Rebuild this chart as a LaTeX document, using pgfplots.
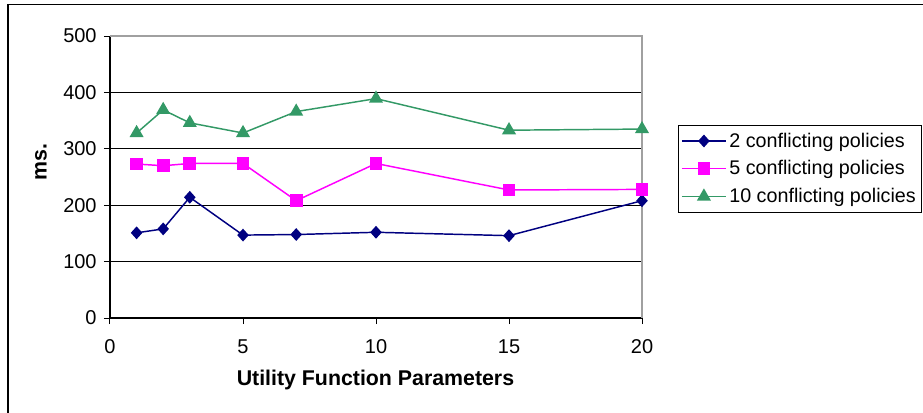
\documentclass[border=0pt]{standalone}
\usepackage{pgfplots}
\pgfplotsset{compat=1.18}
\usepackage{fontspec}
\setmainfont{Liberation Sans}
\definecolor{navyc}{HTML}{000080}
\definecolor{magc}{HTML}{FF00FF}
\definecolor{greenc}{HTML}{339966}
\definecolor{borderc}{HTML}{A0A0A0}
\begin{document}
\begin{tikzpicture}
\begin{axis}[
  scale only axis,
  width=399pt, height=211.5pt,
  xmin=0, xmax=20, ymin=0, ymax=500,
  xtick={0,5,10,15,20}, ytick={0,100,200,300,400,500},
  axis x line*=bottom, axis y line*=left,
  axis line style={black, line width=0.9pt, -},
  tick align=outside, major tick length=4.5pt,
  tick style={black, line width=0.75pt},
  ymajorgrids, grid style={black, line width=0.75pt},
  /pgf/number format/assume math mode=true,
  ticklabel style={font=\fontsize{15}{18}\selectfont},
  yticklabel style={xshift=-2pt},
  xticklabel style={yshift=-8pt},
  xlabel={\textbf{Utility Function Parameters}},
  ylabel={\textbf{ms.}},
  label style={font=\fontsize{16}{19}\selectfont},
  xlabel style={at={(rel axis cs:0.499,-0.2376)}, anchor=base},
  ylabel style={at={(rel axis cs:-0.1297,0.553)}, anchor=center, rotate=0},
  legend style={at={(rel axis cs:1.0677,0.6844)}, anchor=north west,
    draw=black, line width=0.75pt, font=\fontsize{14.8}{17}\selectfont,
    inner xsep=2pt, inner ysep=3.5pt, row sep=4.6pt,
    /tikz/every even column/.append style={column sep=0pt}},
  legend cell align=left,
  legend image code/.code={%
    \draw[mark repeat=2,mark phase=2] plot coordinates {(0pt,0pt) (16.5pt,0pt) (33pt,0pt)};},
  clip=false,
]
\addplot[navyc, line width=1.1pt, mark=diamond*, mark size=4pt, mark options={solid, fill=navyc, xscale=1.2}]
  coordinates {(1,151) (2,158) (3,214) (5,147) (7,148) (10,152) (15,146) (20,208)};
\addplot[magc, line width=1.1pt, mark=square*, mark size=4.2pt, mark options={solid, fill=magc}]
  coordinates {(1,273) (2,270) (3,274) (5,274) (7,208) (10,274) (15,227) (20,228)};
\addplot[greenc, line width=1.1pt, mark=triangle*, mark size=5pt, mark options={solid, fill=greenc}]
  coordinates {(1,328) (2,369) (3,346) (5,328) (7,366) (10,389) (15,333) (20,335)};
\legend{2 conflicting policies, 5 conflicting policies, 10 conflicting policies}
\draw[borderc, line width=1pt] (rel axis cs:0,1) -- (rel axis cs:1,1) -- (rel axis cs:1,0);
\end{axis}
\draw[black, line width=1.2pt] (-76.5pt,-80pt) -- (-76.5pt,235.1pt) -- (620pt,235.1pt);
\pgfresetboundingbox
\path (-82.5pt,-70.5pt) rectangle (609.75pt,238.5pt);
\end{tikzpicture}
\end{document}
